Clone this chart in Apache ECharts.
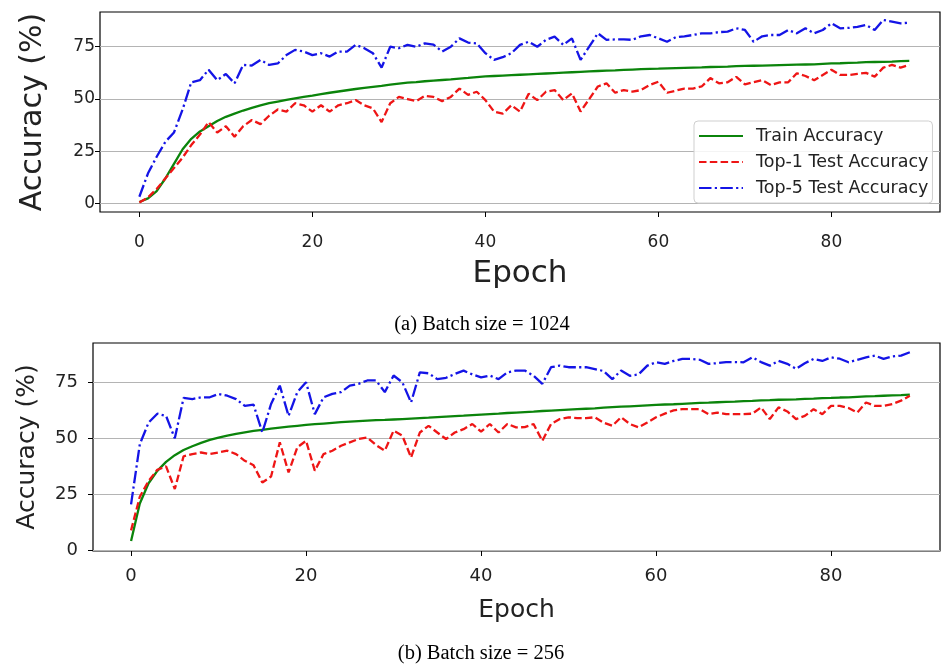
<!DOCTYPE html>
<html><head><meta charset="utf-8">
<script src="https://cdn.jsdelivr.net/npm/echarts@6/dist/echarts.min.js"></script>
<style>html,body{margin:0;padding:0;background:#fff}#c{width:942px;height:664px}</style>
</head><body><div id="c"></div>
<script>
const xTicks = [0, 20, 40, 60, 80];
const yTicks = [0, 25, 50, 75];
const seriesNames = ['Train Accuracy', 'Top-1 Test Accuracy', 'Top-5 Test Accuracy'];
const captions = ['(a) Batch size = 1024', '(b) Batch size = 256'];

// (a) Batch size = 1024
const trainA = [0.8,2.5,6,12,19,26,31,34.5,37,39.5,
41.5,43,44.5,45.8,47,48,48.8,49.6,50.3,51,
51.6,52.3,53,53.6,54.2,54.8,55.3,55.8,56.3,56.9,
57.4,57.8,58.1,58.5,58.8,59.1,59.4,59.8,60.1,60.5,
60.8,61,61.2,61.4,61.6,61.8,62,62.2,62.4,62.6,
62.8,63,63.2,63.4,63.6,63.7,63.9,64.1,64.3,64.4,
64.5,64.7,64.8,64.9,65,65.1,65.3,65.4,65.5,65.7,
65.8,65.9,66,66.1,66.2,66.3,66.4,66.5,66.6,66.8,
67,67.1,67.3,67.4,67.6,67.7,67.8,67.9,68.1,68.2];
const top1A = [0.5,3,7,12,17,22,28,33,39,34,
37,32,37,40,38,42,45,44,48,47,
44,47,44,47,48,49.5,47,45.5,39,48,
51,50,49,51.5,51,49,51,55,52,53.5,
49.5,44,43,47,44,52.5,49.5,53.5,54.3,49.5,
52.7,44,50,56,57.5,53,54.3,53.5,54.3,56.7,
58.3,53,54,55,55,56,60,57.5,58,60.6,
57,58,59,56.7,58,58,62.3,61,59,61.5,
64,61.5,61.5,62,62.5,60.7,65,66.3,65,66.3];
const top5A = [3.3,14.5,22.4,29.5,34,45,58,59,64,59,
62,57.5,66.3,66,68.7,66.3,67,71,73.5,72.7,
71,71.9,70.3,72.7,72.7,75.9,74.3,71.9,65,75,
74.3,75.9,75,76.6,76,72.7,75,79,77,76.6,
71.9,68.7,70,71.9,75.9,77.4,75,78.3,79.8,75.9,
79,68.7,75,81.4,78.3,78.5,78.5,78.3,80,80.6,
79,77.4,79.5,80,80.6,81.4,81.4,82,82.2,83.8,
83,77.4,80,80.6,80.6,83,81.4,83.8,81.4,83,
86.2,83.8,84,84.5,85.4,83,87.8,87,86.2,86.5];

// (b) Batch size = 256
const trainB = [4.3,21,30,35.5,39.5,42.5,44.8,46.5,48,49.3,
50.3,51.2,52,52.7,53.3,53.8,54.3,54.8,55.2,55.6,
56,56.3,56.6,56.9,57.2,57.5,57.7,57.9,58.1,58.2,
58.4,58.6,58.8,59,59.2,59.5,59.7,59.9,60.1,60.4,
60.6,60.8,61,61.3,61.5,61.7,61.9,62.2,62.4,62.6,
62.8,63,63.2,63.4,63.7,63.9,64.1,64.3,64.5,64.7,
64.9,65.1,65.2,65.4,65.6,65.8,65.9,66.1,66.3,66.4,
66.6,66.7,66.9,67,67.2,67.3,67.4,67.6,67.7,67.9,
68,68.2,68.3,68.5,68.7,68.8,69,69.2,69.3,69.5];
const top1B = [9,24,31,36,37.5,27.4,42,43,43.7,43,
43.7,44.5,43,40,38,30.3,33,48.2,34.8,46,
48.9,35.6,43,44.5,46.7,48.2,49.7,50.4,47,44.5,
53.4,51.2,41.5,52.6,55.6,52.6,49.7,52.6,54.1,56.4,
53,56.4,52.6,56.4,54.9,55,56.4,48.9,56.4,58.6,
59.4,59,59,59.4,57,55.6,59.4,56.4,54.9,57.1,
59.4,61,62.5,63,63,63,60.8,61.5,60.8,60.8,
60.8,61,63.8,58.6,63.8,62,58.6,60,63,60.8,
64.5,64.5,63.5,61.5,66,64.5,64.5,65.3,66.8,69];
const top5B = [20.6,47.4,57,61,60,50,68,67.5,68.3,68.3,
69.8,69,67.5,64.5,65,52.6,65.3,73.5,60,70.6,
75,60.8,68.3,69.8,70.6,73.5,74.3,75.8,75.8,70.6,
78,75,66,79.4,79,76.4,77,78.7,80.2,78.5,
77.2,78,76.4,79.4,80.2,80.2,77.9,74.3,81.7,82.4,
81.7,81.7,81.7,80.9,80,76.4,80.2,77.9,78.5,82.4,
83.9,83.2,84.5,85.4,85.4,85,83.2,83.5,84,84,
83.9,86.1,84,82.4,84.5,83.2,81,83.5,85.4,84.5,
86.1,85.5,83.9,85,86.1,86.9,85.4,86.5,86.9,88.4];

const colors = ['#0b840b', '#ee1515', '#1414e6'];
const dashes = ['solid', [7.5, 3.3], [12.5, 3.3, 2.2, 3.3]];
const FONT = 'DejaVu Sans';

function pairs(arr) { return arr.map((v, i) => [i, v]); }

function xAx(gi, min, max, fs, nameFs, nameGap, margin) {
  return {
    type: 'value', gridIndex: gi, min: min, max: max,
    axisLine: { show: false, onZero: false },
    axisTick: { show: true, customValues: xTicks, length: 5, lineStyle: { color: '#000', width: 1 } },
    axisLabel: { customValues: xTicks, fontSize: fs, color: '#222', fontFamily: FONT, margin: margin },
    splitLine: { show: false },
    name: 'Epoch', nameLocation: 'middle', nameGap: nameGap,
    nameTextStyle: { fontSize: nameFs, color: '#222', fontFamily: FONT }
  };
}
function yAx(gi, min, max, fs, nameFs, nameGap, margin) {
  return {
    type: 'value', gridIndex: gi, min: min, max: max,
    axisLine: { show: false, onZero: false },
    axisTick: { show: true, customValues: yTicks, length: 5, lineStyle: { color: '#000', width: 1 } },
    axisLabel: { customValues: yTicks, fontSize: fs, color: '#222', fontFamily: FONT, margin: margin },
    splitLine: { show: true, lineStyle: { color: '#b4b4b4', width: 1.2 } },
    name: 'Accuracy (%)', nameLocation: 'middle', nameGap: nameGap, nameRotate: 90,
    nameTextStyle: { fontSize: nameFs, color: '#222', fontFamily: FONT }
  };
}
function ser(name, arr, k, gi) {
  return {
    type: 'line', name: name, xAxisIndex: gi, yAxisIndex: gi,
    data: pairs(arr), symbol: 'none', showSymbol: false, clip: true,
    lineStyle: { color: colors[k], width: 2.3, type: dashes[k] },
    itemStyle: { color: colors[k] }, z: 3 + k
  };
}

const chart = echarts.init(document.getElementById('c'), null, { renderer: 'canvas' });
chart.setOption({
  animation: false,
  backgroundColor: '#fff',
  textStyle: { fontFamily: FONT },
  title: [
    { text: captions[0], left: 477, top: 309, textAlign: 'center',
      textStyle: { fontFamily: 'Liberation Serif', fontSize: 20.5, fontWeight: 'normal', color: '#000' } },
    { text: captions[1], left: 476, top: 638, textAlign: 'center',
      textStyle: { fontFamily: 'Liberation Serif', fontSize: 20.5, fontWeight: 'normal', color: '#000' } }
  ],
  grid: [
    { left: 100, top: 12, width: 840, height: 200, show: true, borderColor: '#000', borderWidth: 1.2, backgroundColor: 'transparent' },
    { left: 93, top: 343, width: 847, height: 208, show: true, borderColor: '#000', borderWidth: 1.2, backgroundColor: 'transparent' }
  ],
  xAxis: [ xAx(0, -4.55, 92.55, 17, 31, 46, 22), xAx(1, -4.35, 92.45, 18, 25, 47, 16) ],
  yAxis: [ yAx(0, -4, 91.6, 17, 30, 52, 5), yAx(1, -0.2, 92.5, 18, 25, 53, 15) ],
  legend: {
    data: seriesNames, orient: 'vertical', left: 694, top: 121,
    itemWidth: 44, itemHeight: 14, itemGap: 8,
    padding: [6, 4, 6, 4],
    itemStyle: { opacity: 0 },
    backgroundColor: 'rgba(255,255,255,0.85)', borderColor: '#cfcfcf', borderWidth: 1, borderRadius: 4,
    textStyle: { fontSize: 17.5, color: '#222', fontFamily: FONT, padding: [0, 0, 0, 8], lineHeight: 18 }
  },
  series: [
    ser(seriesNames[0], trainA, 0, 0), ser(seriesNames[1], top1A, 1, 0), ser(seriesNames[2], top5A, 2, 0),
    ser(seriesNames[0], trainB, 0, 1), ser(seriesNames[1], top1B, 1, 1), ser(seriesNames[2], top5B, 2, 1)
  ]
});
</script></body></html>
